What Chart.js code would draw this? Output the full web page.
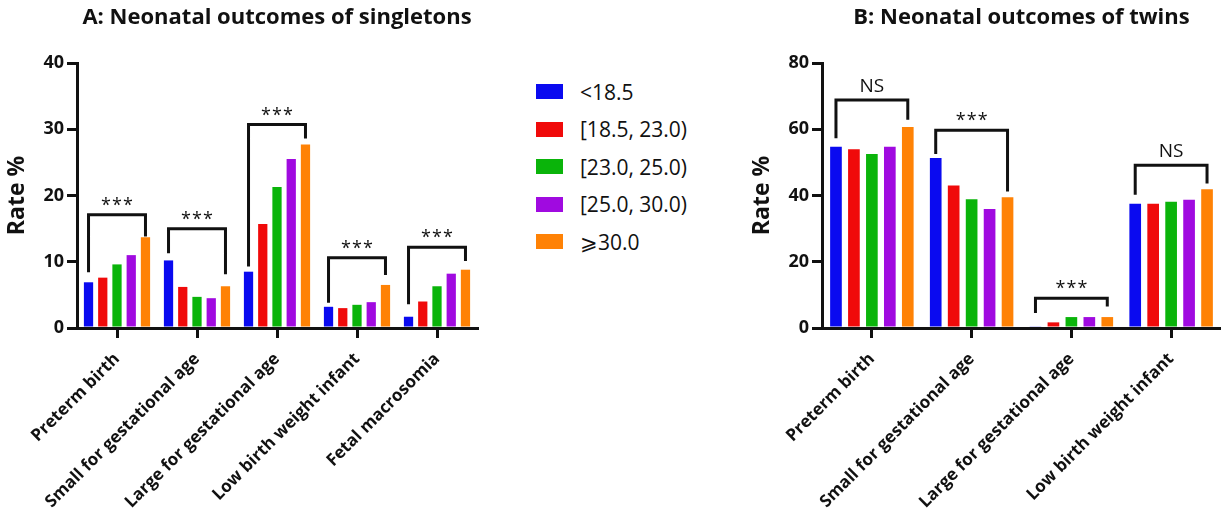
<!DOCTYPE html>
<html>
<head>
<meta charset="utf-8">
<script src="https://cdn.jsdelivr.net/npm/chart.js@4.4.1/dist/chart.umd.min.js"></script>
<style>
  body { margin: 0; background: #fff; width: 1221px; height: 509px; position: relative; overflow: hidden; font-family: "Open Sans", sans-serif; }
  .box { position: absolute; top: 0; height: 509px; }
  #boxA { left: 0; width: 490px; }
  #boxB { left: 745px; width: 476px; }
  #legend { position: absolute; left: 536px; top: 73px; }
  .item { display: flex; align-items: center; height: 37.5px; font-size: 21px; color: #111; }
  .sw { width: 27px; height: 15px; margin-right: 17px; }
</style>
</head>
<body>
<div class="box" id="boxA"><canvas id="chartA"></canvas></div>
<div id="legend"></div>
<div class="box" id="boxB"><canvas id="chartB"></canvas></div>
<script>
const categoriesA = ['Preterm birth', 'Small for gestational age', 'Large for gestational age', 'Low birth weight infant', 'Fetal macrosomia'];
const categoriesB = ['Preterm birth', 'Small for gestational age', 'Large for gestational age', 'Low birth weight infant'];
const bmiGroups = ['<18.5', '[18.5, 23.0)', '[23.0, 25.0)', '[25.0, 30.0)', '\u2A7E30.0'];
const groupColors = ['#0a0af0', '#f00a0a', '#0ab40a', '#a00ae0', '#ff8205'];

// singletons, rate %
const singletonsLt185 = [6.9, 10.2, 8.5, 3.2, 1.7];
const singletons185 = [7.6, 6.2, 15.7, 3.0, 4.0];
const singletons230 = [9.6, 4.7, 21.3, 3.5, 6.3];
const singletons250 = [11.0, 4.5, 25.5, 3.9, 8.2];
const singletons300 = [13.7, 6.3, 27.7, 6.5, 8.8];

// twins, rate %
const twinsLt185 = [54.7, 51.3, 0.5, 37.5];
const twins185 = [54.0, 43.0, 1.7, 37.5];
const twins230 = [52.5, 38.9, 3.3, 38.1];
const twins250 = [54.7, 35.9, 3.3, 38.7];
const twins300 = [60.7, 39.5, 3.3, 41.9];

// significance brackets (value units)
const sigA = ['***', '***', '***', '***', '***'];
const bracketTopA = [17.1, 15.0, 30.7, 10.6, 12.2];
const bracketLeftA = [8.4, 11.3, 9.3, 3.8, 3.6];
const bracketRightA = [13.8, 8.1, 28.6, 8.0, 10.1];

const sigB = ['NS', '***', '***', 'NS'];
const bracketTopB = [68.8, 59.7, 9.0, 49.1];
const bracketLeftB = [57.3, 52.5, 4.5, 40.2];
const bracketRightB = [62.9, 41.2, 6.5, 43.6];

// legend
const legend = document.getElementById('legend');
bmiGroups.forEach((g, i) => {
  legend.insertAdjacentHTML('beforeend',
    '<div class="item"><div class="sw" style="background:' + groupColors[i] + '"></div><span>' +
    g.replace('<', '&lt;') + '</span></div>');
});

const bracketPlugin = {
  id: 'brackets',
  afterDatasetsDraw(chart, args, opts) {
    const { ctx, chartArea } = chart;
    const y = chart.scales.y;
    const first = chart.getDatasetMeta(0).data;
    const last = chart.getDatasetMeta(4).data;
    ctx.save();
    ctx.strokeStyle = '#111';
    ctx.lineWidth = 3;
    ctx.fillStyle = '#111';
    ctx.textAlign = 'center';
    ctx.textBaseline = 'middle';
    opts.tops.forEach((t, i) => {
      const x1 = first[i].x, x2 = last[i].x, yt = y.getPixelForValue(t);
      const xm = (x1 + x2) / 2;
      ctx.beginPath();
      ctx.moveTo(x1, y.getPixelForValue(opts.left[i]));
      ctx.lineTo(x1, yt);
      ctx.lineTo(x2, yt);
      ctx.lineTo(x2, y.getPixelForValue(opts.right[i]));
      ctx.stroke();
      const lab = opts.labels[i];
      if (lab === 'NS') {
        ctx.font = '19px "Open Sans"';
        ctx.fillText(lab, xm, yt - 14);
      } else {
        ctx.font = '18px "Open Sans"';
        [-11, 0, 11].forEach(dx => ctx.fillText('*', xm + dx, yt - 9));
      }
    });
    ctx.font = 'bold 22px "Open Sans"';
    ctx.fillText(opts.title, (chartArea.left + chartArea.right) / 2, 18);
    ctx.restore();
  }
};

function makeChart(id, cats, series, yMax, step, br, padRight, title, catPct) {
  new Chart(document.getElementById(id), {
    type: 'bar',
    data: {
      labels: cats,
      datasets: series.map((d, i) => ({
        label: bmiGroups[i],
        data: d,
        backgroundColor: groupColors[i],
        barPercentage: 0.65,
        categoryPercentage: catPct
      }))
    },
    options: {
      responsive: true,
      maintainAspectRatio: false,
      animation: false,
      layout: { padding: { top: 63, right: padRight, left: 0, bottom: 0 } },
      plugins: {
        legend: { display: false },
        tooltip: { enabled: false },
        brackets: Object.assign({ title: title }, br)
      },
      scales: {
        x: {
          grid: { display: true, drawOnChartArea: false, offset: false, tickLength: 10, lineWidth: 3, color: '#111' },
          border: { display: true, width: 3, color: '#111' },
          ticks: { color: '#111', maxRotation: 45, minRotation: 45, padding: 11, font: { family: 'Open Sans', size: 17, weight: 'bold' } },
          afterFit: s => { s.height = 181; }
        },
        y: {
          min: 0, max: yMax,
          grid: { display: true, drawOnChartArea: false, tickLength: 10, lineWidth: 3, color: '#111' },
          border: { display: true, width: 3, color: '#111' },
          ticks: { stepSize: step, color: '#111', padding: 3, font: { family: 'Open Sans', size: 18, weight: 'bold' } },
          title: { display: true, text: 'Rate %', color: '#111', padding: { top: 4, bottom: 0 }, font: { family: 'Open Sans', size: 23, weight: 'bold' } },
          afterFit: s => { s.width = 77; }
        }
      }
    },
    plugins: [bracketPlugin]
  });
}

makeChart('chartA', categoriesA,
  [singletonsLt185, singletons185, singletons230, singletons250, singletons300],
  40, 10,
  { tops: bracketTopA, left: bracketLeftA, right: bracketRightA, labels: sigA },
  13, 'A: Neonatal outcomes of singletons', 0.89);

makeChart('chartB', categoriesB,
  [twinsLt185, twins185, twins230, twins250, twins300],
  80, 20,
  { tops: bracketTopB, left: bracketLeftB, right: bracketRightB, labels: sigB },
  0, 'B: Neonatal outcomes of twins', 0.9);
</script>
</body>
</html>
